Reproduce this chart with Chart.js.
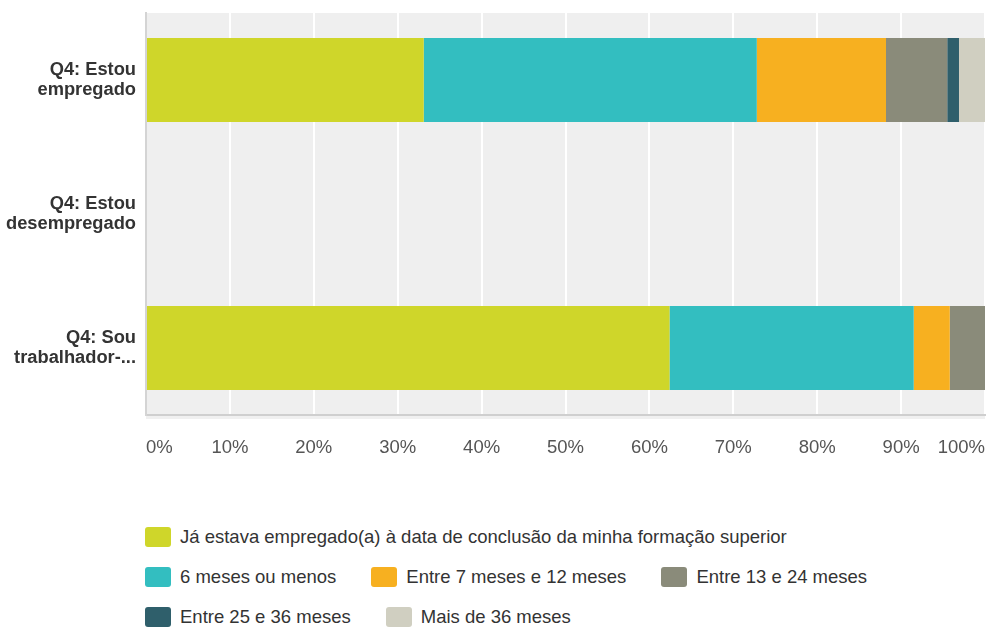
<!DOCTYPE html>
<html>
<head>
<meta charset="utf-8">
<script src="https://cdn.jsdelivr.net/npm/chart.js@4.4.1/dist/chart.umd.min.js"></script>
<style>
  html, body { margin: 0; padding: 0; background: #ffffff; }
  body { width: 989px; height: 628px; position: relative; overflow: hidden;
         font-family: "Liberation Sans", Arial, sans-serif; }
  #wrap { position: absolute; left: 0; top: 0; width: 989px; height: 470px; }
  #legend { position: absolute; left: 145px; top: 526px; width: 750px;
            display: flex; flex-wrap: wrap; row-gap: 19px; column-gap: 35px; }
  .item { display: flex; align-items: center; height: 21px; font-size: 18.5px; color: #333; white-space: nowrap; }
  .box { width: 26px; height: 20px; border-radius: 3px; margin-right: 9px; }
</style>
</head>
<body>
<div id="wrap"><canvas id="c" width="989" height="470"></canvas></div>
<div id="legend"></div>
<script>
// Respondent groups (y axis) and the time-to-job series, in percent
const categories = [
  ["Q4: Estou", "empregado"],
  ["Q4: Estou", "desempregado"],
  ["Q4: Sou", "trabalhador-..."]
];
const seriesNames = [
  "Já estava empregado(a) à data de conclusão da minha formação superior",
  "6 meses ou menos",
  "Entre 7 meses e 12 meses",
  "Entre 13 e 24 meses",
  "Entre 25 e 36 meses",
  "Mais de 36 meses"
];
const jaEmpregado   = [33.1, 0, 62.4];
const seisMeses     = [39.7, 0, 29.1];
const seteA12       = [15.4, 0, 4.3];
const trezeA24      = [7.3, 0, 4.2];
const vinteCincoA36 = [1.4, 0, 0];
const maisDe36      = [3.1, 0, 0];
const xTicks = ["0%", "10%", "20%", "30%", "40%", "50%", "60%", "70%", "80%", "90%", "100%"];

const colors = ["#cfd62a", "#33bec0", "#f7b020", "#8a8b7a", "#2f5f6b", "#d0cfc1"];
const values = [jaEmpregado, seisMeses, seteA12, trezeA24, vinteCincoA36, maisDe36];

const datasets = seriesNames.map((name, i) => ({
  label: name,
  data: values[i],
  backgroundColor: colors[i],
  borderWidth: 0,
  barPercentage: 0.627,
  categoryPercentage: 1.0
}));

// grey plot background behind the bars
const plotBackground = {
  id: "plotBackground",
  beforeDraw(chart) {
    const { ctx, chartArea: a } = chart;
    ctx.save();
    ctx.fillStyle = "#efefef";
    ctx.fillRect(a.left, a.top, a.right - a.left, a.bottom - a.top);
    // soft shadow under the bottom axis line
    ctx.fillStyle = "rgba(0,0,0,0.06)";
    ctx.fillRect(a.left, a.bottom + 1, a.right - a.left, 3);
    ctx.restore();
  }
};

// keep the axes from reserving extra room for overhanging labels
function noPadding(scale) {
  scale.paddingLeft = 0;
  scale.paddingRight = 0;
  scale.paddingTop = 0;
  scale.paddingBottom = 0;
}

const font = { family: "'Liberation Sans', Arial, sans-serif", size: 18.5 };

new Chart(document.getElementById("c"), {
  type: "bar",
  data: { labels: categories, datasets },
  plugins: [plotBackground],
  options: {
    indexAxis: "y",
    responsive: false,
    animation: false,
    layout: { padding: { top: 13, right: 4, left: 0, bottom: 0 } },
    plugins: { legend: { display: false }, tooltip: { enabled: false } },
    scales: {
      x: {
        stacked: true,
        min: 0,
        max: 100,
        afterFit(scale) { scale.height = 55; noPadding(scale); },
        ticks: {
          stepSize: 10,
          align: "inner",
          padding: 22,
          color: "#555",
          font,
          callback: (v) => xTicks[Math.round(v / 10)]
        },
        grid: { color: "#ffffff", lineWidth: 2, drawTicks: false },
        border: { display: true, color: "#cfcfcf", width: 2 }
      },
      y: {
        stacked: true,
        afterFit(scale) { scale.width = 146; noPadding(scale); },
        ticks: {
          padding: 10,
          color: "#333",
          font: { family: font.family, size: 18.3, weight: "bold", lineHeight: 1.1 }
        },
        grid: { display: false, drawTicks: false },
        border: { display: true, color: "#d4d4d4", width: 2 }
      }
    }
  }
});

// legend built from the same series definitions
const legend = document.getElementById("legend");
seriesNames.forEach((name, i) => {
  const item = document.createElement("div");
  item.className = "item";
  const box = document.createElement("span");
  box.className = "box";
  box.style.background = colors[i];
  const text = document.createElement("span");
  text.textContent = name;
  item.appendChild(box);
  item.appendChild(text);
  legend.appendChild(item);
});
</script>
</body>
</html>
